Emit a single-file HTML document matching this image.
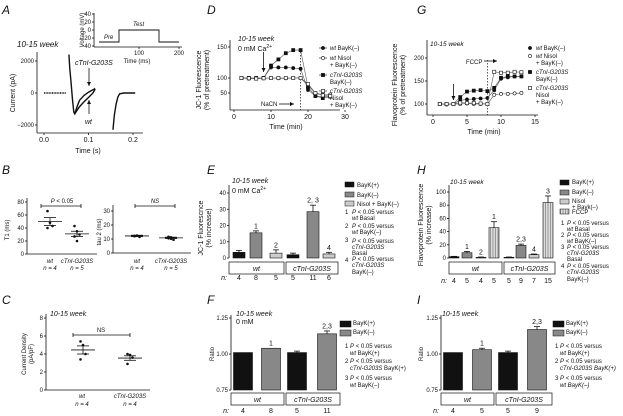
<!DOCTYPE html>
<html><head><meta charset="utf-8">
<style>
body{margin:0;background:#fff}
svg{display:block;font-family:"Liberation Sans",sans-serif}
text{fill:#111}
.t{font-size:7px}
.s{font-size:6px}
.L{font-size:12px;font-style:italic}
.i{font-style:italic}
</style></head>
<body>
<svg id="fig" width="623" height="416" viewBox="0 0 623 416">
<g>
<text class="L" x="2" y="14">A</text>
<text class="L" x="2" y="174">B</text>
<text class="L" x="2" y="304">C</text>
<text class="L" x="207" y="14">D</text>
<text class="L" x="207" y="174">E</text>
<text class="L" x="207" y="304">F</text>
<text class="L" x="417" y="14">G</text>
<text class="L" x="417" y="174">H</text>
<text class="L" x="417" y="304">I</text>
<text x="17" y="47" font-size="8" class="i">10-15 week</text>
<text class="t" x="15" y="93" text-anchor="middle" transform="rotate(-90 15 93)">Current (pA)</text>
<text class="t" x="88" y="153" text-anchor="middle">Time (s)</text>
<text class="s" x="84" y="30" text-anchor="middle" transform="rotate(-90 84 30)">Voltage (mV)</text>
<text class="s" x="137" y="63" text-anchor="middle">Time (ms)</text>
<text class="s i" x="104" y="39">Pre</text>
<text class="s i" x="133" y="26">Test</text>
<text class="t i" x="75" y="65">cTnI-G203S</text>
<text class="t i" x="85" y="124">wt</text>
<text class="s" x="9" y="230" text-anchor="middle" transform="rotate(-90 9 230)">T1 (ms)</text>
<text class="s" x="101" y="232" text-anchor="middle" transform="rotate(-90 101 232)">tau 2 (ms)</text>
<text class="s" x="62" y="203" text-anchor="middle"><tspan class="i">P</tspan> &lt; 0.05</text>
<text class="s i" x="155" y="203" text-anchor="middle">NS</text>
<g class="s i" text-anchor="middle">
<text x="50" y="263">wt</text><text x="50" y="270">n = 4</text>
<text x="77" y="263">cTnI-G203S</text><text x="77" y="270">n = 5</text>
<text x="137" y="263">wt</text><text x="137" y="270">n = 4</text>
<text x="171" y="263">cTnI-G203S</text><text x="171" y="270">n = 5</text>
<text x="82" y="398">wt</text><text x="82" y="406">n = 4</text>
<text x="130" y="398">cTnI-G203S</text><text x="130" y="406">n = 4</text>
</g>
<text x="50" y="316" font-size="7" class="i">10-15 week</text>
<text class="s" x="101" y="332" text-anchor="middle">NS</text>
<text class="s" x="26" y="354" text-anchor="middle" transform="rotate(-90 26 354)"><tspan x="26">Current Density</tspan><tspan x="26" dy="7">(pA/pF)</tspan></text>
<text x="238" y="41" font-size="7" class="i">10-15 week</text>
<text x="238" y="51" font-size="7">0 mM Ca<tspan font-size="5" dy="-3">2+</tspan></text>
<text class="t" x="201" y="80" text-anchor="middle" transform="rotate(-90 201 80)"><tspan x="201">JC-1 Fluorescence</tspan><tspan x="201" dy="8">(% of pretreatment)</tspan></text>
<text class="t" x="286" y="129" text-anchor="middle">Time (min)</text>
<text class="s" x="261" y="106">NaCN</text>
<g class="s">
<text x="330" y="50"><tspan class="i">wt</tspan> BayK(–)</text>
<text x="330" y="60"><tspan class="i">wt</tspan> Nisol</text><text x="330" y="67">+ BayK(–)</text>
<text x="330" y="77" class="i">cTnI-G203S</text><text x="330" y="84">BayK(–)</text>
<text x="330" y="93" class="i">cTnI-G203S</text><text x="330" y="100">Nisol</text><text x="330" y="107">+ BayK(–)</text>
</g>
<text x="430" y="46" font-size="6.5" class="i">10-15 week</text>
<text class="t" x="397" y="85" text-anchor="middle" transform="rotate(-90 397 85)"><tspan x="397">Flavoprotein Fluorescence</tspan><tspan x="397" dy="8">(% of pretreatment)</tspan></text>
<text class="t" x="484" y="134" text-anchor="middle">Time (min)</text>
<text class="s" x="466" y="64">FCCP</text>
<g class="s">
<text x="536" y="50"><tspan class="i">wt</tspan> BayK(–)</text>
<text x="536" y="58"><tspan class="i">wt</tspan> Nisol</text><text x="536" y="65">+ BayK(–)</text>
<text x="536" y="74" class="i">cTnI-G203S</text><text x="536" y="81">BayK(–)</text>
<text x="536" y="90" class="i">cTnI-G203S</text><text x="536" y="97">Nisol</text><text x="536" y="104">+ BayK(–)</text>
</g>
<text x="232" y="183" font-size="7" class="i">10-15 week</text>
<text x="232" y="193" font-size="7">0 mM Ca<tspan font-size="5" dy="-3">2+</tspan></text>
<text class="t" x="203" y="228" text-anchor="middle" transform="rotate(-90 203 228)"><tspan x="203">JC-1 Fluorescnce</tspan><tspan x="203" dy="8">(% increase)</tspan></text>
<g class="s">
<text x="357" y="187">BayK(+)</text><text x="357" y="197">BayK(–)</text><text x="357" y="206">Nisol + BayK(–)</text>
<text x="345" y="214">1</text><text x="352" y="214"><tspan class="i">P</tspan> &lt; 0.05 versus</text><text x="352" y="220"><tspan class="i">wt</tspan> Basal</text>
<text x="345" y="228">2</text><text x="352" y="228"><tspan class="i">P</tspan> &lt; 0.05 versus</text><text x="352" y="234"><tspan class="i">wt</tspan> BayK(–)</text>
<text x="345" y="242">3</text><text x="352" y="243"><tspan class="i">P</tspan> &lt; 0.05 versus</text><text x="352" y="249" class="i">cTnI-G203S</text><text x="352" y="255">Basal</text>
<text x="345" y="262">4</text><text x="352" y="261"><tspan class="i">P</tspan> &lt; 0.05 versus</text><text x="352" y="267" class="i">cTnI-G203S</text><text x="352" y="274">BayK(–)</text>
</g>
<text x="450" y="184" font-size="6.5" class="i">10-15 week</text>
<text class="t" x="423" y="225" text-anchor="middle" transform="rotate(-90 423 225)"><tspan x="423">Flavoprotein Fluorescence</tspan><tspan x="423" dy="8">(% increase)</tspan></text>
<g class="s">
<text x="572" y="184">BayK(+)</text><text x="572" y="194">BayK(–)</text><text x="572" y="203">Nisol</text><text x="572" y="209">+ Bayk(–)</text><text x="572" y="214">FCCP</text>
<text x="561" y="225">1</text><text x="567" y="225"><tspan class="i">P</tspan> &lt; 0.05 versus</text><text x="567" y="231"><tspan class="i">wt</tspan> Basal</text>
<text x="561" y="237">2</text><text x="567" y="237"><tspan class="i">P</tspan> &lt; 0.05 versus</text><text x="567" y="243"><tspan class="i">wt</tspan> BayK(–)</text>
<text x="561" y="249">3</text><text x="567" y="249"><tspan class="i">P</tspan> &lt; 0.05 versus</text><text x="567" y="255" class="i">cTnI-G203S</text><text x="567" y="261">Basal</text>
<text x="561" y="268">4</text><text x="567" y="268"><tspan class="i">P</tspan> &lt; 0.05 versus</text><text x="567" y="274" class="i">cTnI-G203S</text><text x="567" y="281">BayK(–)</text>
</g>
<text x="236" y="316" font-size="7" class="i">10-15 week</text>
<text x="236" y="324" font-size="7">0 mM</text>
<text class="s" x="214" y="354" text-anchor="middle" transform="rotate(-90 214 354)">Ratio</text>
<g class="s">
<text x="353" y="325">BayK(+)</text><text x="353" y="334">BayK(–)</text>
<text x="345" y="348">1 <tspan class="i">P</tspan> &lt; 0.05 versus</text><text x="350" y="355"><tspan class="i">wt</tspan> BayK(+)</text>
<text x="345" y="363">2 <tspan class="i">P</tspan> &lt; 0.05 versus</text><text x="350" y="370"><tspan class="i">cTnI-G203S</tspan> BayK(+)</text>
<text x="345" y="380">3 <tspan class="i">P</tspan> &lt; 0.05 versus</text><text x="350" y="387"><tspan class="i">wt</tspan> BayK(–)</text>
</g>
<text x="442" y="316" font-size="7" class="i">10-15 week</text>
<text class="s" x="423" y="354" text-anchor="middle" transform="rotate(-90 423 354)">Ratio</text>
<g class="s">
<text x="566" y="325">BayK(+)</text><text x="566" y="334">BayK(–)</text>
<text x="555" y="348">1 <tspan class="i">P</tspan> &lt; 0.05 versus</text><text x="560" y="355"><tspan class="i">wt</tspan> BayK(+)</text>
<text x="555" y="363">2 <tspan class="i">P</tspan> &lt; 0.05 versus</text><text x="560" y="370" class="i">cTnI-G203S BayK(+)</text>
<text x="555" y="380">3 <tspan class="i">P</tspan> &lt; 0.05 versus</text><text x="560" y="387" class="i">wt BayK(–)</text>
</g>
</g>
<defs><pattern id="hatch" width="2.5" height="4" patternUnits="userSpaceOnUse"><rect width="2.5" height="4" fill="#ddd"/><line x1="0.5" y1="0" x2="0.5" y2="4" stroke="#777" stroke-width="0.7"/></pattern></defs>
</svg>
<script>
// ---- data ----
const aTimesCtni=[0.056,0.058,0.061,0.064,0.067,0.069,0.075,0.08,0.09,0.1,0.11,0.115];
const aCurCtni=[2400,1500,600,-400,-1200,-1300,-800,-450,-150,50,200,280];
const aTimesWt=[0.069,0.075,0.08,0.09,0.1,0.11,0.115];
const aCurWt=[-1300,-1050,-850,-550,-280,0,250];
const aTailTimes=[0.155,0.158,0.162,0.166,0.17,0.18,0.205];
const aTailCur=[-2300,-1400,-700,-250,-50,0,0];
const aStepTimes=[0,50,50,150,150,200];
const aStepVolt=[-30,-30,0,0,-30,-30];
const bT1Wt=[66,48,43,40];const bT1Ctni=[43,35,30,27,20];
const bT1Mean=[50,31];const bT1Sem=[6,4];
const bTau2Wt=[12,12.5,11.5,12.2];const bTau2Ctni=[10.5,11.2,9.5,11.6,10.2];
const bTau2Mean=[12.2,10.8];const bTau2Sem=[0.5,0.5];
const cWt=[5.4,5.0,4.0,3.4];const cCtni=[4.0,3.9,3.6,2.9];
const cMean=[4.45,3.55];const cSem=[0.45,0.25];
const dTimes=[2,4,6,8,10,12,14,16,18,20,22,24,26];
const dWtBay=[100,100,99,100,117,117,117,116,115,60,40,38,38];
const dWtNisol=[100,98,99,99,100,99,99,100,100,75,50,45,45];
const dCtniBay=[100,100,100,100,120,130,140,145,145,70,40,33,38];
const dCtniNisol=[100,99,98,99,100,100,100,100,100,80,50,42,40];
const gTimes=[1,2,3,4,5,6,7,8,9,10,11,12,13];
const gWtBay=[100,99,100,108,110,111,112,113,130,155,158,160,160];
const gWtNisol=[100,99,100,100,101,100,100,100,120,122,122,123,124];
const gCtniBay=[100,100,100,115,127,129,130,128,135,157,160,160,160];
const gCtniNisol=[100,100,100,103,102,102,101,100,170,168,168,170,169];
const eValues=[3.5,15.5,3,2,28.5,2.5];const eErrors=[1.2,1.2,2,1,4,1];
const eN=["4","8","5","5","11","6"];const eSig=["","1","2","","2, 3","4"];
const hValues=[2,8,1,46,1,19,5,84];const hErrors=[0.5,2,0.5,9,0.5,2,1,10];
const hN=["4","5","4","5","5","9","7","15"];const hSig=["","1","2","1","","2,3","4","3"];
const fValues=[1.01,1.04,1.01,1.14];const fErrors=[0,0,0.01,0.02];
const fN=["4","8","5","11"];const fSig=["","1","","2,3"];
const iValues=[1.01,1.03,1.01,1.17];const iErrors=[0,0.01,0.01,0.02];
const iN=["4","5","5","9"];const iSig=["","1","","2,3"];
// ---- helpers ----
const svg=document.getElementById('fig');
const NS='http://www.w3.org/2000/svg';
function mk(tag,at,name){const e=document.createElementNS(NS,tag);for(const k in at)e.setAttribute(k,at[k]);


svg.appendChild(e);return e;}
function txt(x,y,s,name,cls,anchor){const e=mk('text',{x:x,y:y,class:cls||'s','text-anchor':anchor||'middle'},name);e.textContent=s;return e;}
function lin(d0,d1,r0,r1){return v=>r0+(v-d0)*(r1-r0)/(d1-d0);}
function line(x1,y1,x2,y2,name,w,dash){const a={x1:x1,y1:y1,x2:x2,y2:y2,stroke:'#111','stroke-width':w||0.8};if(dash)a['stroke-dasharray']=dash;return mk('line',a,name);}
function yAxis(x,y0,y1,ticks,sc,lbl,name){line(x,y0,x,y1,name+'-y-axis');ticks.forEach((t,i)=>{line(x-2,sc(t),x,sc(t),name+'-y-tick');txt(x-3,sc(t)+2,lbl[i],name+'-y-tick-label','s','end');});}
function xAxis(y,x0,x1,ticks,sc,lbl,name){line(x0,y,x1,y,name+'-x-axis');ticks.forEach((t,i)=>{line(sc(t),y,sc(t),y+2,name+'-x-tick');txt(sc(t),y+9,lbl[i],name+'-x-tick-label','t');});}
function poly(xs,ys,sx,sy,name,w,col){return mk('polyline',{points:xs.map((v,i)=>sx(v)+','+sy(ys[i])).join(' '),fill:'none',stroke:col||'#111','stroke-width':w||0.8},name);}
function marker(x,y,type,name,r){r=r||1.6;const filled=type[0]=='f';if(type[1]=='c')return mk('circle',{cx:x,cy:y,r:r,fill:filled?'#111':'#fff',stroke:'#111','stroke-width':0.6},name);return mk('rect',{x:x-r,y:y-r,width:2*r,height:2*r,fill:filled?'#111':'#fff',stroke:'#111','stroke-width':0.6},name);}
function arrow(x1,y1,x2,y2,name){line(x1,y1,x2,y2,name);const dx=x2-x1,dy=y2-y1,L=Math.hypot(dx,dy),ux=dx/L,uy=dy/L;mk('polygon',{points:`${x2},${y2} ${x2-ux*4-uy*2},${y2-uy*4+ux*2} ${x2-ux*4+uy*2},${y2-uy*4-ux*2}`,fill:'#111'},name+'-head');}
// ---- A ----
{const sx=lin(0,0.1,44,88.5),sy=lin(0,2000,93,61);
yAxis(37,52,133,[2000,0,-2000],sy,['2000','0','−2000'],'a');
xAxis(133,37,143,[0,0.1,0.2],sx,['0.0','0.1','0.2'],'a');
mk('polyline',{points:`${sx(0)},${sy(0)} ${sx(0.05)},${sy(0)}`,fill:'none',stroke:'#111','stroke-width':1.5,'stroke-dasharray':'1 0.6'},'a-baseline-trace');
poly(aTimesCtni,aCurCtni,sx,sy,'a-ctni-trace',1.4);
poly(aTimesWt,aCurWt,sx,sy,'a-wt-trace',1.4);
poly(aTailTimes,aTailCur,sx,sy,'a-tail-trace',1.4);
arrow(89,68,89,86,'a-ctni-arrow');arrow(89,114,89,100,'a-wt-arrow');
const ix=lin(0,100,99,139),iy=lin(0,40,30,14);
line(94,13,94,47,'a-inset-y-axis');line(94,47,182,47,'a-inset-x-axis');
[40,20,0,-20,-40].forEach(t=>{line(92,iy(t),94,iy(t),'a-inset-y-tick');txt(91,iy(t)+2,String(t).replace('-','−'),'a-inset-y-tick-label','s','end');});
[100,200].forEach(t=>{line(ix(t),47,ix(t),49,'a-inset-x-tick');txt(ix(t),55,String(t),'a-inset-x-tick-label','s');});
poly(aStepTimes,aStepVolt,ix,iy,'a-voltage-protocol',0.9);}
// ---- B & C scatter ----
function scatter(ax,y0,y1,ticks,sc,lbl,xs,groups,mean,sem,name,bar){
 yAxis(ax,y0,y1,ticks,sc,lbl,name);line(ax,y1,xs[1]+20,y1,name+'-x-axis');
 groups.forEach((g,gi)=>{g.forEach((v,i)=>mk('circle',{cx:xs[gi]+(i%3-1)*2.5,cy:sc(v),r:1.3,fill:'#111'},name+'-point'));
  line(xs[gi]-12,sc(mean[gi]),xs[gi]+12,sc(mean[gi]),name+'-mean-line');
  line(xs[gi],sc(mean[gi]-sem[gi]),xs[gi],sc(mean[gi]+sem[gi]),name+'-sem');
  line(xs[gi]-6,sc(mean[gi]+sem[gi]),xs[gi]+6,sc(mean[gi]+sem[gi]),name+'-sem-cap');
  line(xs[gi]-6,sc(mean[gi]-sem[gi]),xs[gi]+6,sc(mean[gi]-sem[gi]),name+'-sem-cap');});
 line(bar[0],bar[2],bar[1],bar[2],name+'-sig-bar');line(bar[0],bar[2]-2,bar[0],bar[2]+2,name+'-sig-end');line(bar[1],bar[2]-2,bar[1],bar[2]+2,name+'-sig-end');}
scatter(27,198,254,[0,20,40,60,80],lin(0,80,254,202),['0','20','40','60','80'],[50,77],[bT1Wt,bT1Ctni],bT1Mean,bT1Sem,'b-t1',[41,81,206]);
scatter(113,205,253,[0,10,20,30],lin(0,30,253,211),['0','10','20','30'],[137,171],[bTau2Wt,bTau2Ctni],bTau2Mean,bTau2Sem,'b-tau2',[135,175,206]);
scatter(46,314,390,[0,2,4,6,8],lin(0,8,390,318),['0','2','4','6','8'],[83,130],[cWt,cCtni],cMean,cSem,'c-density',[73,130,335]);
// ---- D ----
{const sx=lin(0,10,234,271),sy=v=>v>=100?78-(v-100)*31/50:78+(100-v)*15/50;
yAxis(230,40,110,[50,100,150],sy,['50','100','150'],'d');
xAxis(110,230,340,[0,10,20,30],sx,['0','10','20','30'],'d');
line(sx(18),52,sx(18),110,'d-nacn-line',0.7,'1.5 1.5');
arrow(sx(8),52,sx(8),72,'d-treatment-arrow');arrow(279,104,294,104,'d-nacn-arrow');
[[dWtBay,'fc'],[dWtNisol,'oc'],[dCtniBay,'fs'],[dCtniNisol,'os']].forEach((s,k)=>{poly(dTimes,s[0],sx,sy,'d-series-line',0.6,'#555');dTimes.forEach((t,i)=>marker(sx(t),sy(s[0][i]),s[1],'d-point'));
 line(319,[48,58,75,91][k],327,[48,58,75,91][k],'d-legend-line',0.6);marker(323,[48,58,75,91][k],s[1],'d-legend-marker');});}
// ---- G ----
{const sx=lin(0,5,433,467),sy=lin(100,200,104,58);
yAxis(427,40,115,[100,150,200],sy,['100','150','200'],'g');
xAxis(115,427,538,[0,5,10,15],sx,['0','5','10','15'],'g');
line(sx(8),60,sx(8),115,'g-fccp-line',0.7,'1.5 1.5');
arrow(sx(3),84,sx(3),100,'g-treatment-arrow');arrow(484,61,497,61,'g-fccp-arrow');
[[gWtBay,'fc'],[gWtNisol,'oc'],[gCtniBay,'fs'],[gCtniNisol,'os']].forEach((s,k)=>{poly(gTimes,s[0],sx,sy,'g-series-line',0.6,'#555');gTimes.forEach((t,i)=>marker(sx(t),sy(s[0][i]),s[1],'g-point'));
 marker(530,[48,56,72,88][k],s[1],'g-legend-marker');});}
// ---- bar charts ----
function bars(ax,yTop,y0,ticks,sc,lbl,xs,w,vals,errs,fills,sig,ns,nY,box,name){
 yAxis(ax,yTop,y0,ticks,sc,lbl,name);
 vals.forEach((v,i)=>{const base=sc(ticks[0]);mk('rect',{x:xs[i]-w/2,y:sc(v),width:w,height:base-sc(v),fill:fills[i],stroke:'#111','stroke-width':0.6},name+'-bar');
  if(errs[i]>0){line(xs[i],sc(v),xs[i],sc(v+errs[i]),name+'-error');line(xs[i]-3,sc(v+errs[i]),xs[i]+3,sc(v+errs[i]),name+'-error-cap');}
  if(sig[i])txt(xs[i],sc(v+errs[i])-2.5,sig[i],name+'-sig-label','t');
  txt(xs[i],nY,ns[i],name+'-n-label','t');});
 txt(ax-5,nY,'n:',name+'-n-title','t i');
 mk('rect',{x:ax,y:box[0],width:box[1]-ax,height:box[3]-box[0],fill:'#fff',stroke:'#111','stroke-width':0.7},name+'-wt-box');
 mk('rect',{x:box[1]+2,y:box[0],width:box[2]-box[1]-2,height:box[3]-box[0],fill:'#fff',stroke:'#111','stroke-width':0.7},name+'-ctni-box');
 txt((ax+box[1])/2,box[3]-3,'wt',name+'-wt-group-label','t i');txt((box[1]+box[2])/2+1,box[3]-3,'cTnI-G203S',name+'-ctni-group-label','t i');}
const K='#111',G='#888',LG='#ccc',HT='url(#hatch)';
bars(229,185,258,[0,10,20,30,40],lin(0,40,258,193),['0','10','20','30','40'],[239,256,276,293,313,329],12,eValues,eErrors,[K,G,LG,K,G,LG],eSig,eN,280,[262,284,338,274],'e');
bars(449,185,258,[0,20,40,60,80,100],lin(0,100,258,192),['0','20','40','60','80','100'],[454,467,481,494,509,521,534,548],10,hValues,hErrors,[K,G,LG,HT,K,G,LG,HT],hSig,hN,283,[262,502,555,274],'h');
bars(231,315,390,[0.75,1.00,1.25],lin(0.75,1.25,390,318),['0.75','1.00','1.25'],[243,271,297,327],19,fValues,fErrors,[K,G,K,G],fSig,fN,413,[393,284,340,405],'f');
bars(441,315,390,[0.75,1.00,1.25],lin(0.75,1.25,390,318),['0.75','1.00','1.25'],[453,482,508,537],19,iValues,iErrors,[K,G,K,G],iSig,iN,413,[393,494,552,405],'i');
[[345,182,K],[345,192,G],[345,201,LG],[560,180,K],[560,190,G],[560,199,LG],[560,209,HT],[340,321,K],[340,330,G],[553,321,K],[553,330,G]].forEach(s=>mk('rect',{x:s[0],y:s[1],width:s[1]>300?11:9,height:s[1]>300?6:5,fill:s[2],stroke:'#111','stroke-width':0.5},'legend-swatch'));
</script>
</body></html>
